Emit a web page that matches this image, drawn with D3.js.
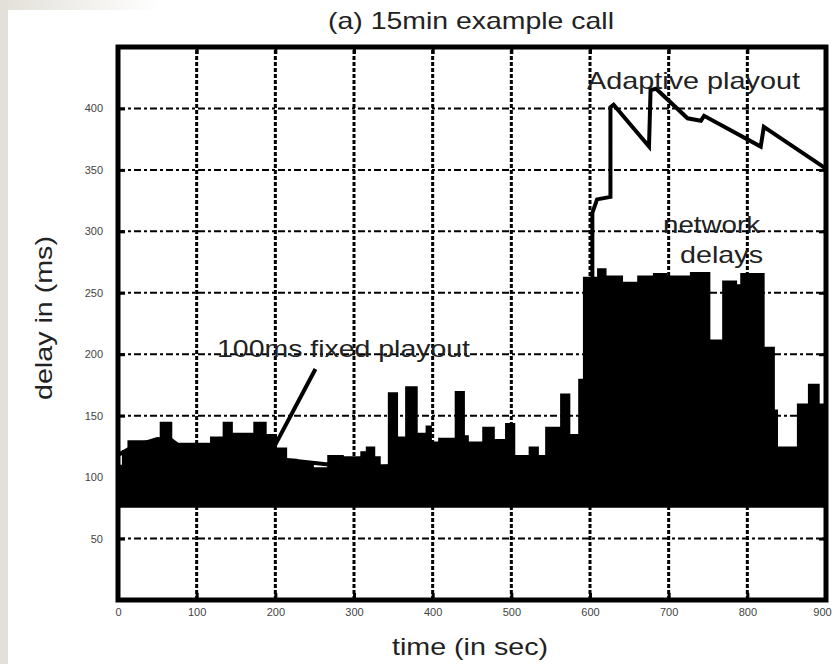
<!DOCTYPE html>
<html>
<head>
<meta charset="utf-8">
<script src="https://cdn.jsdelivr.net/npm/d3@7"></script>
<style>
  body { margin: 0; background: #fff; }
  svg { display: block; }
</style>
</head>
<body>
<div id="chart"></div>
<script>
var width = 834;
var height = 664;

// axis ticks
var xTicks = [0, 100, 200, 300, 400, 500, 600, 700, 800, 900];
var yTicks = [50, 100, 150, 200, 250, 300, 350, 400];

// network delays: upper edge of the scatter cloud, read per time segment (sec, ms)
var netTime = [0, 5, 12, 53, 69, 95, 117, 133, 146, 172, 189, 202, 215, 228, 249, 266, 287, 308, 315, 327, 334,
               343, 356, 365, 381, 391, 399, 407, 428, 441, 446, 463, 479, 492, 505, 522, 535, 543, 562, 575,
               585, 591, 609, 621, 642, 660, 680, 698, 727, 753, 768, 787, 791, 822, 835, 839, 863, 877, 892, 900];
var netUpper = [110, 122, 130, 145, 128, 128, 133, 145, 136, 145, 135, 124, 115, 113, 108, 118, 117, 121, 125, 117, 110,
                169, 133, 174, 136, 142, 129, 132, 170, 134, 129, 141, 131, 144, 118, 125, 118, 141, 168, 135,
                180, 263, 270, 264, 259, 264, 266, 264, 267, 212, 260, 257, 266, 206, 155, 125, 160, 176, 160, 160];
var netFloor = 75;

// adaptive playout delay (sec, ms)
var adaptTime  = [0, 20, 50, 68, 104, 200, 300, 400, 500, 580, 603, 603, 609, 626, 626, 630, 675, 677, 684, 724, 741, 745, 817, 821, 900];
var adaptDelay = [118, 125, 131, 130, 113, 115, 108, 110, 112, 120, 140, 315, 326, 328, 401, 403, 369, 415, 416, 392, 390, 394, 369, 385, 351];

// annotation pointer for the fixed playout label (sec, ms)
var pointerTime  = [198, 251];
var pointerDelay = [124, 188];

var svg = d3.select("#chart")
            .append("svg")
            .attr("width", width)
            .attr("height", height);

// scanned page edges
var grad = svg.append("defs")
              .append("linearGradient")
              .attr("id", "edge")
              .attr("x1", 0).attr("x2", 1).attr("y1", 0).attr("y2", 0);
grad.append("stop").attr("offset", "0%").attr("stop-color", "#e3e0d9");
grad.append("stop").attr("offset", "100%").attr("stop-color", "#ffffff");

svg.append("rect")
    .attr("x", 0).attr("y", 0)
    .attr("width", 160).attr("height", 10)
    .attr("fill", "url(#edge)");
svg.append("rect")
    .attr("x", 0).attr("y", 0)
    .attr("width", 8).attr("height", height)
    .attr("fill", "#e3e0d9");

var x = d3.scaleLinear().domain([0, 900]).range([118, 826]);
var y = d3.scaleLinear().domain([0, 450]).range([600, 47]);

// grid
svg.selectAll(".vgrid")
    .data(xTicks.slice(1, -1))
    .enter()
    .append("line")
    .attr("class", "vgrid")
    .attr("x1", d => x(d))
    .attr("x2", d => x(d))
    .attr("y1", y(0))
    .attr("y2", y(450))
    .attr("stroke", "#000")
    .attr("stroke-width", 3)
    .attr("stroke-dasharray", "4,2");

svg.selectAll(".hgrid")
    .data(yTicks)
    .enter()
    .append("line")
    .attr("class", "hgrid")
    .attr("x1", x(0))
    .attr("x2", x(900))
    .attr("y1", d => y(d))
    .attr("y2", d => y(d))
    .attr("stroke", "#000")
    .attr("stroke-width", 2)
    .attr("stroke-dasharray", "7,3,3,3");

// network delay cloud
var netPts = netTime.map((t, i) => ({t: t, v: netUpper[i]}));
var area = d3.area()
             .x(d => x(d.t))
             .y0(y(netFloor))
             .y1(d => y(d.v))
             .curve(d3.curveStepAfter);

svg.append("path")
    .datum(netPts)
    .attr("d", area)
    .attr("fill", "#000");

// adaptive playout line
var line = d3.line()
             .x(d => x(d.t))
             .y(d => y(d.v))
             .curve(d3.curveLinear);

svg.append("path")
    .datum(adaptTime.map((t, i) => ({t: t, v: adaptDelay[i]})))
    .attr("d", line)
    .attr("fill", "none")
    .attr("stroke", "#000")
    .attr("stroke-width", 4)
    .attr("stroke-linejoin", "miter");

svg.append("path")
    .datum(pointerTime.map((t, i) => ({t: t, v: pointerDelay[i]})))
    .attr("d", line)
    .attr("fill", "none")
    .attr("stroke", "#000")
    .attr("stroke-width", 4);

// axes (inward ticks)
var bottomAxis = d3.axisBottom(x).tickValues(xTicks).tickSizeInner(-7).tickSizeOuter(0).tickPadding(8);
var leftAxis = d3.axisLeft(y).tickValues(yTicks).tickSizeInner(-7).tickSizeOuter(0).tickPadding(15);
var topAxis = d3.axisTop(x).tickValues(xTicks).tickSizeInner(-7).tickSizeOuter(0).tickFormat("");
var rightAxis = d3.axisRight(y).tickValues(yTicks).tickSizeInner(-7).tickSizeOuter(0).tickFormat("");

function styleAxis(g) {
    g.select(".domain").remove();
    g.selectAll(".tick line").attr("stroke", "#000").attr("stroke-width", 3);
    g.selectAll(".tick text")
        .attr("fill", "#444")
        .style("font-family", "Liberation Sans, Arial, sans-serif")
        .style("font-size", "11px");
}

var gx = svg.append("g").attr("transform", "translate(0," + y(0) + ")").call(bottomAxis).call(styleAxis);
// last label sits on the page edge
gx.selectAll(".tick text").filter(d => d === 900).attr("dx", "-4");
svg.append("g").attr("transform", "translate(" + x(0) + ",0)").call(leftAxis).call(styleAxis);
svg.append("g").attr("transform", "translate(0," + y(450) + ")").call(topAxis).call(styleAxis);
svg.append("g").attr("transform", "translate(" + x(900) + ",0)").call(rightAxis).call(styleAxis);

// frame
svg.append("rect")
    .attr("x", x(0))
    .attr("y", y(450))
    .attr("width", x(900) - x(0))
    .attr("height", y(0) - y(450))
    .attr("fill", "none")
    .attr("stroke", "#000")
    .attr("stroke-width", 5);

// texts
var labels = [
    {text: "(a) 15min example call", x: 328, y: 29, w: 286, size: 24},
    {text: "Adaptive playout", x: 587, y: 89, w: 213, size: 24},
    {text: "network", x: 663, y: 233, w: 97, size: 24},
    {text: "delays", x: 680, y: 263, w: 83, size: 24},
    {text: "100ms fixed playout", x: 217, y: 357, w: 253, size: 24},
    {text: "time (in sec)", x: 392, y: 655, w: 156, size: 24}
];

svg.selectAll(".lbl")
    .data(labels)
    .enter()
    .append("text")
    .attr("class", "lbl")
    .attr("x", d => d.x)
    .attr("y", d => d.y)
    .attr("textLength", d => d.w)
    .attr("lengthAdjust", "spacingAndGlyphs")
    .style("font-family", "Liberation Sans, Arial, sans-serif")
    .style("font-size", d => d.size + "px")
    .attr("fill", "#222")
    .text(d => d.text);

svg.append("text")
    .attr("transform", "translate(52,400) rotate(-90)")
    .attr("textLength", 164)
    .attr("lengthAdjust", "spacingAndGlyphs")
    .style("font-family", "Liberation Sans, Arial, sans-serif")
    .style("font-size", "24px")
    .attr("fill", "#222")
    .text("delay in (ms)");
</script>
</body>
</html>
